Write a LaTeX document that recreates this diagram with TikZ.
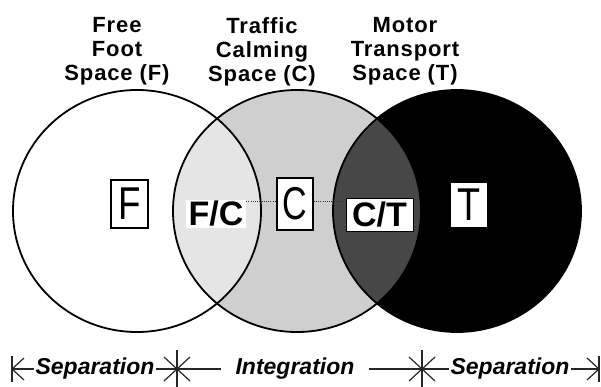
\documentclass[tikz,border=0pt]{standalone}
\usepackage{fontspec}
\setmainfont{Liberation Sans}
\newfontfamily\titlefont[LetterSpace=4]{Liberation Sans}
\usepackage{graphicx}
\begin{document}
\begin{tikzpicture}[x=1pt,y=-1pt,
  title/.style={align=center,inner sep=0pt,anchor=north,font=\titlefont\bfseries\fontsize{22}{24}\selectfont},
  bigbox/.style={draw=black,line width=1.4pt,fill=white,inner sep=0pt,font=\fontsize{46}{46}\selectfont},
  lensbox/.style={fill=white,inner sep=0pt,font=\bfseries\fontsize{34}{34}\selectfont},
  botlabel/.style={fill=white,inner ysep=1pt,font=\bfseries\itshape\fontsize{23}{23}\selectfont},
  bline/.style={line width=1.2pt,draw=black!85},
  dotline/.style={draw=black!80,line width=0.8pt,dash pattern=on 1pt off 1.2pt},
  outline/.style={draw=black,line width=1.8pt}]
\useasboundingbox (0,0) rectangle (601,387);
\fill[white] (0,0) rectangle (601,387);
% circles
\def\rx{124pt}\def\ry{121pt}
\coordinate (cf) at (137,211);
\coordinate (cc) at (297,211);
\coordinate (ct) at (457,211);
\fill[black!19!white] (cc) ellipse [x radius=\rx, y radius=\ry];
\begin{scope}
  \clip (cf) ellipse [x radius=\rx, y radius=\ry];
  \fill[black!10!white] (cc) ellipse [x radius=\rx, y radius=\ry];
\end{scope}
\fill[black] (ct) ellipse [x radius=\rx, y radius=\ry];
\begin{scope}
  \clip (cc) ellipse [x radius=\rx, y radius=\ry];
  \fill[black!72!white] (ct) ellipse [x radius=\rx, y radius=\ry];
\end{scope}
\draw[outline] (cf) ellipse [x radius=\rx, y radius=\ry];
\draw[outline] (cc) ellipse [x radius=\rx, y radius=\ry];
\draw[outline] (ct) ellipse [x radius=\rx, y radius=\ry];
% titles
\node[title] (tf) at (117,17) {Free\\Foot\\Space (F)};
\node[title] (tc) at (262,17) {Traffic\\Calming\\Space (C)};
\node[title] (tt) at (405,17) {Motor\\Transport\\Space (T)};
% region labels
\node[bigbox,minimum width=37pt,minimum height=48pt] (fbox) at (129.5,204) {\scalebox{0.8}[1]{F}};
\node[bigbox,minimum width=36pt,minimum height=52pt] (cbox) at (295,204) {\scalebox{0.74}[1]{C}};
\node[bigbox,minimum width=38pt,minimum height=46pt] (tbox) at (469,205) {\scalebox{0.82}[1]{T}};
\node[lensbox,minimum width=60pt,minimum height=28pt] (fc) at (216,213.5) {F/C};
\node[lensbox,draw=black,line width=1pt,minimum width=67pt,minimum height=33pt] (ctl) at (379.5,214.5) {C/T};
\coordinate (dy) at (0,201);
\draw[dotline] (fc.east |- dy) -- (cbox.west |- dy);
\draw[dotline] (cbox.east |- dy) -- (ctl.west |- dy);
% bottom scale
\coordinate (lend) at (12,369);
\coordinate (s1) at (177,369);
\coordinate (s2) at (422,369);
\coordinate (rend) at (599,369);
\node[botlabel,inner xsep=1pt] (sepl) at (95,369) {Separation};
\node[botlabel,inner xsep=14pt] (integ) at (295,369) {Integration};
\node[botlabel,inner xsep=1pt] (sepr) at (510,369) {Separation};
\draw[bline] (lend) -- (sepl.west);
\draw[bline] (sepl.east) -- (s1) -- (integ.west);
\draw[bline] (integ.east) -- (s2) -- (sepr.west);
\draw[bline] (sepr.east) -- (rend);
% end bars and chevrons
\draw[bline] (lend) ++(0,-13) -- ++(0,26);
\draw[bline] (lend) ++(12,-11) -- (lend) -- ++(12,11);
\draw[bline] (rend) ++(0,-13) -- ++(0,26);
\draw[bline] (rend) ++(-12,-11) -- (rend) -- ++(-12,11);
\foreach \s in {s1,s2}{
  \draw[bline] (\s) ++(0,-19) -- ++(0,38);
  \draw[bline] (\s) ++(-13,-12) -- (\s) -- ++(-13,12);
  \draw[bline] (\s) ++(13,-12) -- (\s) -- ++(13,12);
}
\end{tikzpicture}
\end{document}
